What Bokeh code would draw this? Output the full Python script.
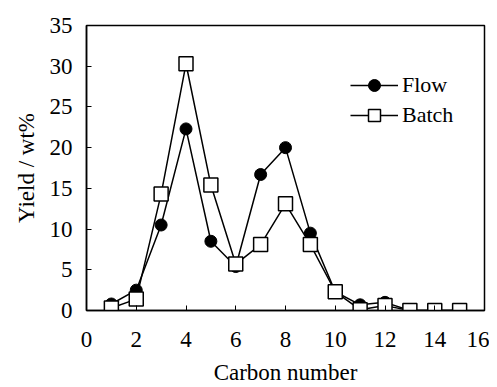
from bokeh.plotting import figure
from bokeh.embed import file_html
from bokeh.resources import INLINE
from bokeh.models import Range1d, FixedTicker, Legend, LegendItem

carbon = [1, 2, 3, 4, 5, 6, 7, 8, 9, 10, 11, 12, 13, 14, 15]
flow = [0.8, 2.5, 10.5, 22.3, 8.5, 5.4, 16.7, 20.0, 9.5, 2.3, 0.7, 1.0, 0.0, 0.0, 0.0]
batch = [0.3, 1.4, 14.3, 30.3, 15.4, 5.7, 8.1, 13.1, 8.1, 2.3, 0.1, 0.6, 0.0, 0.0, 0.0]
x_ticks = [0, 2, 4, 6, 8, 10, 12, 14, 16]
y_ticks = [0, 5, 10, 15, 20, 25, 30, 35]

FONT = "Liberation Serif"

p = figure(width=489, height=387, output_backend="svg", toolbar_location=None,
           x_range=Range1d(0, 16), y_range=Range1d(0, 35),
           min_border_left=86, min_border_right=5, min_border_top=25, min_border_bottom=76)
p.background_fill_color = "white"
p.border_fill_color = "white"
p.outline_line_color = "black"
p.outline_line_width = 1.5
p.xgrid.visible = False
p.ygrid.visible = False

for ax in (p.xaxis[0], p.yaxis[0]):
    ax.major_label_text_font = FONT
    ax.major_label_text_font_size = "23px"
    ax.major_label_text_color = "black"
    ax.axis_label_text_font = FONT
    ax.axis_label_text_font_size = "23px"
    ax.axis_label_text_font_style = "normal"
    ax.axis_label_text_color = "black"
    ax.axis_line_color = "black"
    ax.axis_line_width = 1.5
    ax.major_tick_in = 5
    ax.major_tick_out = 0
    ax.major_tick_line_color = "black"
    ax.minor_tick_line_color = None

p.xaxis.ticker = FixedTicker(ticks=x_ticks)
p.yaxis.ticker = FixedTicker(ticks=y_ticks)
p.xaxis.axis_label = "Carbon number"
p.yaxis.axis_label = "Yield / wt%"
p.xaxis.major_label_standoff = 21
p.yaxis.major_label_standoff = 14
p.xaxis.axis_label_standoff = 10
p.yaxis.axis_label_standoff = 8

l1 = p.line(carbon, flow, line_color="black", line_width=1.5)
m1 = p.scatter(carbon, flow, marker="circle", size=12, fill_color="black", line_color="black")
l2 = p.line(carbon, batch, line_color="black", line_width=1.5)
m2 = p.scatter(carbon, batch, marker="square", size=14, fill_color="white", line_color="black", line_width=1.5)

legend = Legend(items=[LegendItem(label="Flow", renderers=[l1, m1]),
                       LegendItem(label="Batch", renderers=[l2, m2])],
                location=(264, 180))
legend.label_text_font = FONT
legend.label_text_font_size = "22px"
legend.label_text_color = "black"
legend.background_fill_alpha = 0
legend.border_line_color = None
legend.padding = 0
legend.margin = 0
legend.glyph_width = 48
legend.glyph_height = 30
legend.label_height = 30
legend.label_standoff = 4
legend.spacing = 0
p.add_layout(legend, "center")

open("out.html", "w").write(file_html(p, INLINE))
